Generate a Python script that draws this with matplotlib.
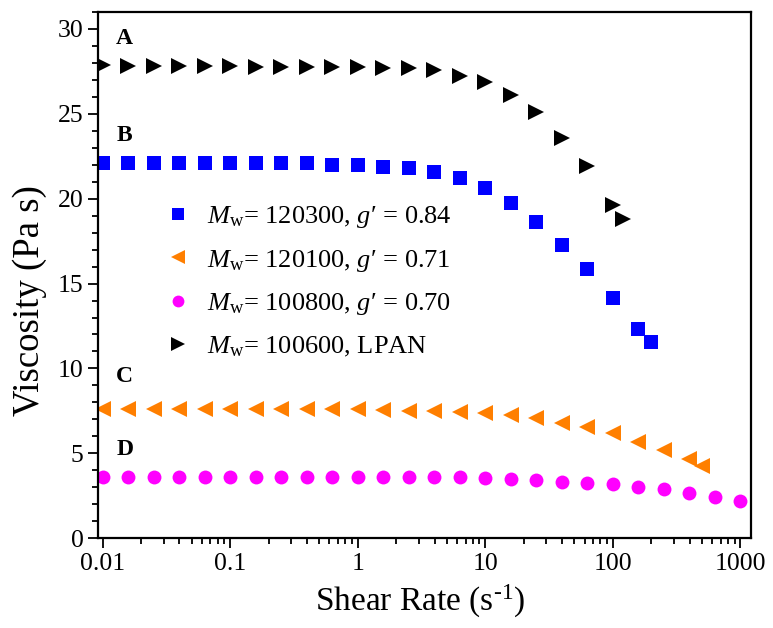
import matplotlib
matplotlib.use('Agg')
import matplotlib.pyplot as plt
from matplotlib.ticker import MultipleLocator, LogLocator, FixedLocator, FixedFormatter

plt.rcParams['font.family'] = ['Liberation Serif', 'DejaVu Serif']
plt.rcParams['mathtext.fontset'] = 'custom'
plt.rcParams['mathtext.rm'] = 'Liberation Serif'
plt.rcParams['mathtext.it'] = 'Liberation Serif:italic'

# shear-rate sweep (s^-1), 5 points per decade
rate = [0.01, 0.0158, 0.0251, 0.0398, 0.0631, 0.1, 0.158, 0.251, 0.398, 0.631,
        1, 1.58, 2.51, 3.98, 6.31, 10, 15.8, 25.1, 39.8, 63.1,
        100, 158, 251, 398, 631, 1000]

# A: Mw 100600, LPAN
rate_a = rate[:21] + [120]
visc_a = [27.85, 27.84, 27.84, 27.84, 27.84, 27.8, 27.75, 27.75, 27.75, 27.75,
          27.75, 27.68, 27.68, 27.6, 27.25, 26.9, 26.1, 25.1, 23.6, 21.9,
          19.65, 18.8]

# B: Mw 120300, g' 0.84
rate_b = rate[:22] + [200]
visc_b = [22.09, 22.09, 22.09, 22.09, 22.09, 22.09, 22.09, 22.09, 22.09, 22.01,
          22.01, 21.89, 21.78, 21.58, 21.19, 20.6, 19.77, 18.65, 17.3, 15.87,
          14.13, 12.34, 11.54]

# C: Mw 120100, g' 0.71
rate_c = rate[:24] + [500]
visc_c = [7.6, 7.6, 7.6, 7.6, 7.6, 7.6, 7.6, 7.6, 7.6, 7.6,
          7.6, 7.56, 7.52, 7.52, 7.46, 7.36, 7.27, 7.07, 6.81, 6.54,
          6.18, 5.69, 5.2, 4.65, 4.25]

# D: Mw 100800, g' 0.70
rate_d = rate
visc_d = [3.62, 3.62, 3.62, 3.62, 3.62, 3.62, 3.62, 3.62, 3.62, 3.62,
          3.62, 3.62, 3.62, 3.62, 3.58, 3.52, 3.46, 3.42, 3.32, 3.27,
          3.17, 3.03, 2.88, 2.64, 2.44, 2.19]

fig = plt.figure(figsize=(7.73, 6.28), dpi=100)
ax = fig.add_axes([0.127, 0.143, 0.845, 0.838])

ax.plot(rate_b, visc_b, 's', color='#0000ff', ms=9.5, mew=0,
        label=r'$M_{\rm w}$= 120300, $g\prime$ = 0.84')
ax.plot(rate_c, visc_c, '<', color='#ff7f00', ms=11.5, mew=0,
        label=r'$M_{\rm w}$= 120100, $g\prime$ = 0.71')
ax.plot(rate_d, visc_d, 'o', color='#ff00ff', ms=10, mew=0,
        label=r'$M_{\rm w}$= 100800, $g\prime$ = 0.70')
ax.plot(rate_a, visc_a, '>', color='black', ms=11.5, mew=0,
        label=r'$M_{\rm w}$= 100600, LPAN')

ax.set_xscale('log')
ax.set_xlim(0.00922, 1220)
ax.set_ylim(0, 31)

ax.xaxis.set_major_locator(FixedLocator([0.01, 0.1, 1, 10, 100, 1000]))
ax.xaxis.set_major_formatter(FixedFormatter(['0.01', '0.1', '1', '10', '100', '1000']))
ax.xaxis.set_minor_locator(LogLocator(base=10, subs=range(2, 10)))
ax.yaxis.set_major_locator(MultipleLocator(5))
ax.yaxis.set_minor_locator(MultipleLocator(1))

ax.tick_params(which='both', direction='out', top=False, right=False, width=1.3)
ax.tick_params(which='major', length=7, labelsize=18.5)
ax.tick_params(which='minor', length=4)
for s in ax.spines.values():
    s.set_linewidth(1.6)

ax.set_xlabel('Shear Rate (s$^{\\mathrm{\u2010}1}$)', fontsize=24)
ax.set_ylabel('Viscosity (Pa s)', fontsize=26.5)
ax.yaxis.set_label_coords(-0.078, 0.452)
ax.xaxis.set_label_coords(0.493, -0.085)

for lbl, yv in [('A', 29.46), ('B', 23.74), ('C', 9.53), ('D', 5.2)]:
    ax.text(0.0149, yv, lbl, fontsize=17, fontweight='bold', ha='center', va='center')

ax.legend(loc='upper left', bbox_to_anchor=(0.064, 0.68), frameon=False,
          fontsize=19, handletextpad=0.55, labelspacing=0.66, markerscale=0.85,
          handlelength=1.1)

fig.savefig('out.png', dpi=100)
